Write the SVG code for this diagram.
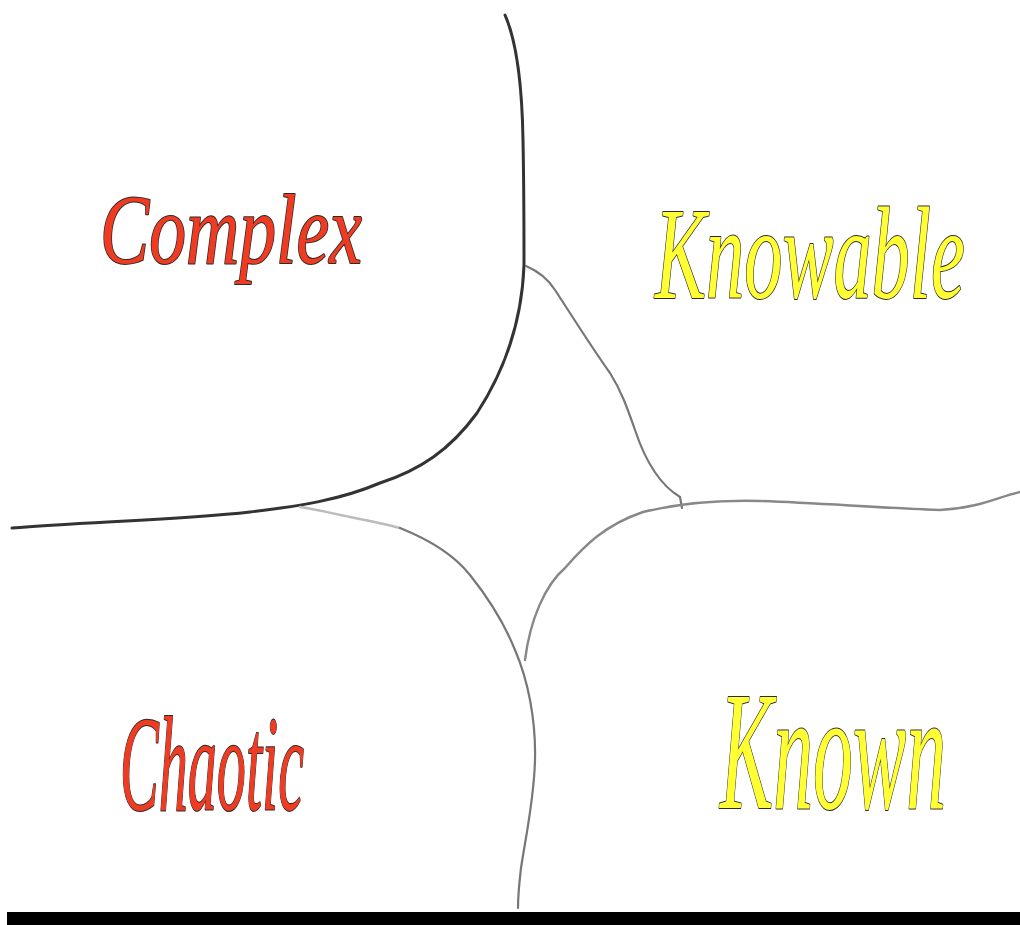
<svg xmlns="http://www.w3.org/2000/svg" width="1020" height="925" viewBox="0 0 1020 925">
<style>
.lbl{font-family:"Liberation Serif","DejaVu Serif",serif;font-style:italic;stroke:#2a2a2a;stroke-width:2;paint-order:stroke;stroke-linejoin:round}
.red{fill:#ee3b22}
.yel{fill:#ffff33}
.ln{fill:none;stroke-linecap:round;stroke-linejoin:round}
</style>
<rect width="1020" height="925" fill="#ffffff"/>
<g id="connectors">
<path class="ln" stroke="#333" stroke-width="3" d="M505,15 C516,40 522,80 523,140 C524,190 524,230 524,265 C522,320 505,370 477,413 C450,450 420,470 380,483 C340,500 300,506 250,512 C180,520 80,522 12,528"/>
<path class="ln" stroke="#777" stroke-width="2.2" d="M526,266 C540,272 550,282 555,290 C565,305 590,345 610,373 C622,392 628,410 635,430 C645,460 660,485 680,497 L682,508"/>
<path class="ln" stroke="#888" stroke-width="2.4" d="M525,660 C530,620 545,585 565,568 C585,545 605,525 643,512 C680,503 720,500 760,501 C820,503 880,508 940,510 C980,508 1000,496 1020,492"/>
<path class="ln" stroke="#bbb" stroke-width="2.4" d="M300,507 C320,510 335,514 350,517 C370,521 385,524 400,528"/>
<path class="ln" stroke="#777" stroke-width="2.2" d="M400,528 C430,540 455,556 470,575 C490,600 505,625 515,650 C528,680 536,720 535,760 C534,800 526,835 521,868 C519,885 518,895 518,908"/>
</g>
<rect x="7" y="912" width="1013" height="13" fill="#000"/>
<g id="complex"><text class="lbl red" x="100" y="263" font-size="100" textLength="262" lengthAdjust="spacingAndGlyphs">Complex</text></g>
<g id="knowable"><text class="lbl yel" x="655" y="298" font-size="132" textLength="310" lengthAdjust="spacingAndGlyphs">Knowable</text></g>
<g id="chaotic"><text class="lbl red" x="120" y="810" font-size="135" textLength="184" lengthAdjust="spacingAndGlyphs">Chaotic</text></g>
<g id="known"><text class="lbl yel" x="720" y="808" font-size="170" textLength="226" lengthAdjust="spacingAndGlyphs">Known</text></g>
</svg>
